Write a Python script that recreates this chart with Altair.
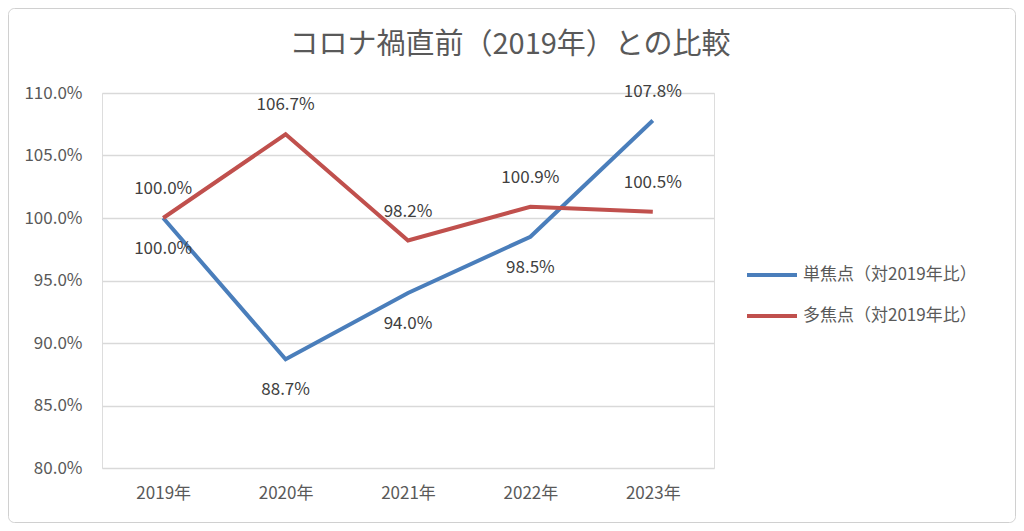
import altair as alt
import pandas as pd

title_text = "コロナ禍直前（2019年）との比較"
years = ["2019年", "2020年", "2021年", "2022年", "2023年"]
series_names = ["単焦点（対2019年比）", "多焦点（対2019年比）"]
single_vals = [100.0, 88.7, 94.0, 98.5, 107.8]
multi_vals = [100.0, 106.7, 98.2, 100.9, 100.5]
single_side = ["below", "below", "below", "below", "above"]
multi_side = ["above", "above", "above", "above", "above"]
colors = ["#4A7EBB", "#C0504D"]
y_ticks = [80, 85, 90, 95, 100, 105, 110]

rows = []
for name, vals, sides in [(series_names[0], single_vals, single_side),
                          (series_names[1], multi_vals, multi_side)]:
    for yr, v, s in zip(years, vals, sides):
        rows.append({"year": yr, "series": name, "value": v,
                     "label": f"{v:.1f}%", "side": s})
df = pd.DataFrame(rows)

FONT = "Noto Sans CJK JP"

x = alt.X("year:N", sort=years, scale=alt.Scale(type="point", padding=0.5),
          axis=alt.Axis(title=None, labelAngle=0, domain=False, ticks=False,
                        labelPadding=17, labelFontSize=17, labelColor="#595959",
                        labelFont=FONT, grid=False))
y = alt.Y("value:Q", scale=alt.Scale(domain=[80, 110], nice=False, zero=False),
          axis=alt.Axis(title=None, values=y_ticks,
                        labelExpr="format(datum.value, '.1f') + '%'",
                        domain=False, ticks=False, labelPadding=20,
                        labelFontSize=17, labelColor="#595959", labelFont=FONT,
                        grid=True, gridColor="#d9d9d9", gridWidth=1.5))

base = alt.Chart(df)

lines = base.mark_line(strokeWidth=4).encode(
    x=x, y=y,
    color=alt.Color("series:N", sort=series_names,
                    scale=alt.Scale(domain=series_names, range=colors),
                    legend=alt.Legend(title=None, orient="none", legendX=643, legendY=155,
                                      symbolType="stroke", symbolSize=2500,
                                      symbolStrokeWidth=4, labelFontSize=17,
                                      labelFont=FONT, labelColor="#595959",
                                      rowPadding=6, labelOffset=4, labelLimit=400)),
    order=alt.Order("year:N"),
)

above = base.transform_filter(alt.datum.side == "above").mark_text(
    dy=-29, fontSize=17, color="#404040", font=FONT
).encode(x=x, y=y, text="label:N")

below = base.transform_filter(alt.datum.side == "below").mark_text(
    dy=31, fontSize=17, color="#404040", font=FONT
).encode(x=x, y=y, text="label:N")

title_mark = alt.Chart(pd.DataFrame({"t": [title_text]})).mark_text(
    fontSize=29, font=FONT, color="#595959", baseline="middle", align="center"
).encode(x=alt.value(408), y=alt.value(-48), text="t:N")

frame = alt.Chart(pd.DataFrame({"a": [0]})).mark_rect(
    filled=False, stroke="#d0d0d0", strokeWidth=1, cornerRadius=6
).encode(x=alt.value(-93.5), x2=alt.value(913.5), y=alt.value(-84.5), y2=alt.value(429.5))

chart = alt.layer(frame, title_mark, lines, above, below).properties(
    width=612, height=375,
    autosize=alt.AutoSizeParams(type="none"),
    padding={"left": 94, "top": 85, "right": 302, "bottom": 55},
).configure_view(stroke=None).configure(background="white")

chart.save("out.html", embed_options={"renderer": "svg", "actions": False})
